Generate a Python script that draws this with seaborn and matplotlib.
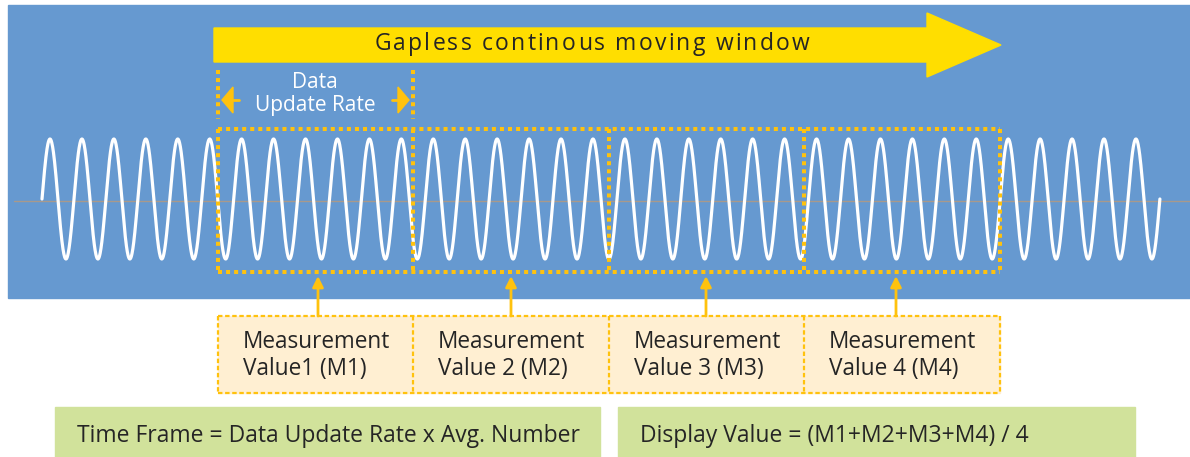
import numpy as np
import pandas as pd
import matplotlib.pyplot as plt
import seaborn as sns
from matplotlib.patches import Rectangle, Polygon

sns.set_theme(style="white")
plt.rcParams['font.family'] = ['Open Sans', 'DejaVu Sans']

# Fenêtres de mesure (bords en px)
window_edges = [218, 413, 609, 804, 1000]
box_line1 = ["Measurement", "Measurement", "Measurement", "Measurement"]
box_line2 = ["Value1 (M1)", "Value 2 (M2)", "Value 3 (M3)", "Value 4 (M4)"]
arrow_x = [318, 511, 706, 896]
formulas = ["Time Frame = Data Update Rate x Avg. Number",
            "Display Value = (M1+M2+M3+M4) / 4"]
formula_left = [55, 618]
formula_right = [600, 1135]
title = "Gapless continous moving window"
rate_label = ["Data", "Update Rate"]

# Signal
wave_start = 42
wave_period = 31.94
wave_cycles = 35
wave_center = 199
wave_amp = 60

BLUE = '#6699D0'
YELLOW = '#FFDE00'
DOT = '#FFC20E'
PEACH = '#FFEFD2'
GREEN = '#D1E29B'
TXT = '#252525'

fig = plt.figure(figsize=(11.9, 4.57), dpi=100)
ax = fig.add_axes([0, 0, 1, 1])
ax.set_xlim(0, 1190)
ax.set_ylim(457, 0)
ax.axis('off')

# fond bleu
ax.add_patch(Rectangle((8, 5), 1182, 293, color=BLUE, zorder=0))

# grande flèche jaune
ax.add_patch(Polygon([(214, 28), (927, 28), (927, 13), (1001, 45),
                      (927, 77), (927, 62), (214, 62)],
                     closed=True, color=YELLOW, zorder=2))


def spaced_text(x_center, y, s, spacing, **kw):
    r = fig.canvas.get_renderer()

    def width(t):
        a = ax.text(0, 0, t + '|', **kw)
        b = ax.text(0, 0, '|', **kw)
        w = a.get_window_extent(r).width - b.get_window_extent(r).width
        a.remove()
        b.remove()
        return w

    total = width(s) + spacing * (len(s) - 1)
    x0 = x_center - total / 2
    for i, ch in enumerate(s):
        ax.text(x0 + width(s[:i]) + i * spacing, y, ch, ha='left', va='center', **kw)


spaced_text(592, 44, title, 2.2, fontsize=16.5, color=TXT, zorder=3)

# axe zéro + sinusoïde
ax.plot([14, 1190], [201, 201], color='#A8998C', lw=1, zorder=1)
xs = np.linspace(wave_start, wave_start + wave_cycles * wave_period, 4000)
ys = wave_center - wave_amp * np.sin(2 * np.pi * (xs - wave_start) / wave_period)
sns.lineplot(x=xs, y=ys, ax=ax, color='white', lw=2.3, sort=False, zorder=2)

dotted = dict(color=DOT, lw=2.9, linestyle=(0, (1, 1)), zorder=4)

# fenêtre "Data Update Rate"
for xe in window_edges[:2]:
    ax.plot([xe, xe], [70, 119], **dotted)
for tip, base, shaft in [(222, 233, 239), (409, 398, 392)]:
    ax.add_patch(Polygon([(tip, 100), (base, 87), (base, 113)], closed=True, color=DOT, zorder=4))
    ax.plot([base, shaft], [100, 100], color=DOT, lw=2, zorder=4)
ax.text(315, 82, rate_label[0], ha='center', va='center', color='white', fontsize=15)
ax.text(315, 106, rate_label[1], ha='center', va='center', color='white', fontsize=15)

# fenêtres de mesure sur le signal
for yh in [129, 272]:
    ax.plot([window_edges[0], window_edges[-1]], [yh, yh], **dotted)
for xe in window_edges:
    ax.plot([xe, xe], [129, 272], **dotted)

# boîtes de mesure
thin = dict(color=DOT, lw=1.6, linestyle=(0, (2, 1.2)), zorder=4)
ax.add_patch(Rectangle((window_edges[0], 316), window_edges[-1] - window_edges[0], 77,
                       color=PEACH, zorder=1))
for yh in [316, 393]:
    ax.plot([window_edges[0], window_edges[-1]], [yh, yh], **thin)
for xe in window_edges:
    ax.plot([xe, xe], [316, 393], **thin)
for i in range(4):
    ax.text(window_edges[i] + 25, 342, box_line1[i], ha='left', va='center', color=TXT, fontsize=16.3)
    ax.text(window_edges[i] + 25, 369, box_line2[i], ha='left', va='center', color=TXT, fontsize=16.3)
    ax.annotate('', xy=(arrow_x[i], 276), xytext=(arrow_x[i], 316),
                arrowprops=dict(arrowstyle='-|>', color=DOT, lw=2, mutation_scale=16,
                                shrinkA=0, shrinkB=0), zorder=5)

# formules
for i in range(2):
    ax.add_patch(Rectangle((formula_left[i], 407), formula_right[i] - formula_left[i], 50,
                           color=GREEN, zorder=1))
    ax.text(formula_left[i] + 22, 436, formulas[i], ha='left', va='center', color=TXT, fontsize=16.5)

fig.savefig('out.png', dpi=100)
